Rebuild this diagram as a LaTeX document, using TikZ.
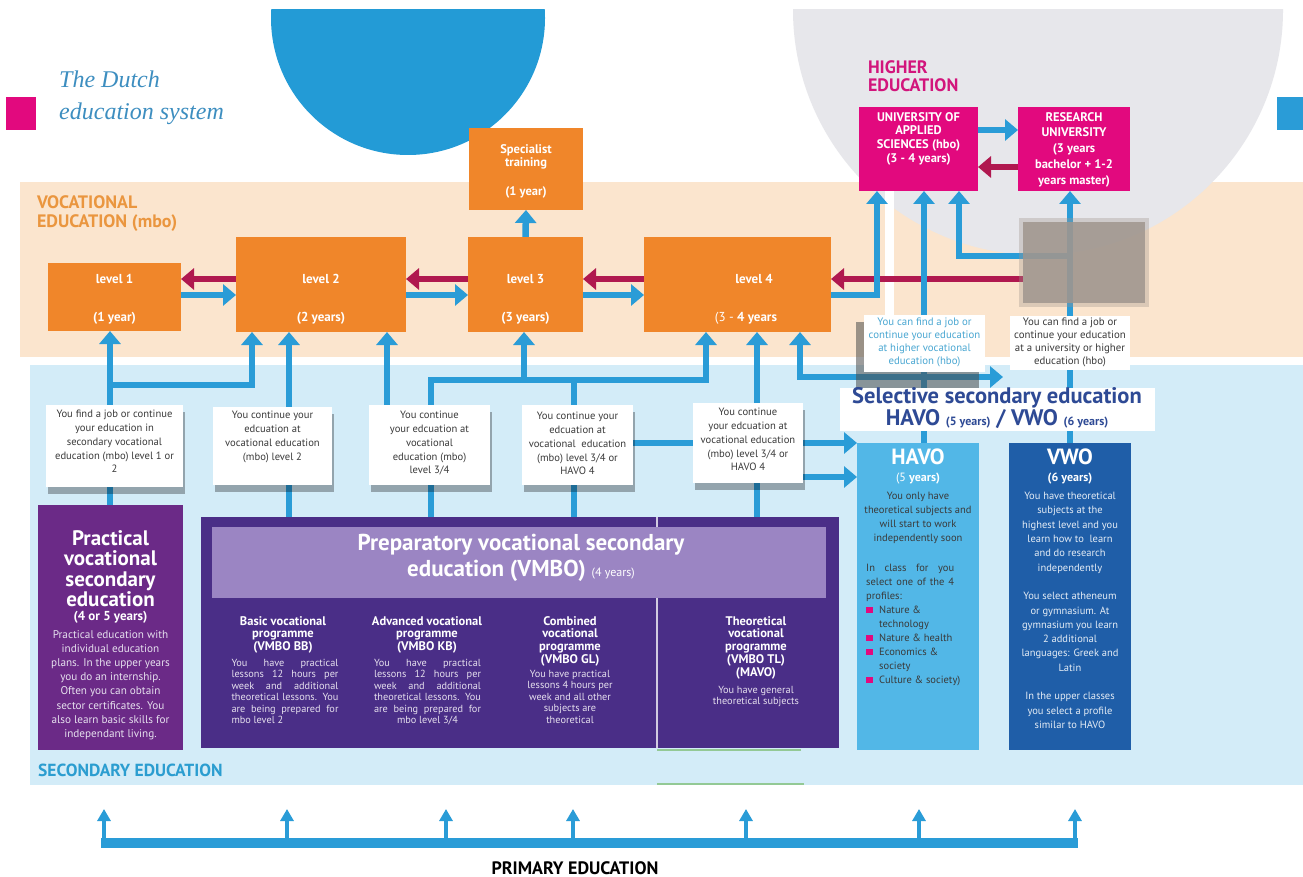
\documentclass[tikz,border=0pt]{standalone}
\usepackage{fontspec}
\setmainfont{PT Sans}
\newfontfamily\titlefont{Liberation Serif}
\usetikzlibrary{arrows.meta,shadows}
\pgfdeclarelayer{bg}
\pgfdeclarelayer{lines}
\pgfsetlayers{bg,lines,main}
\newcommand\fsz[2]{\fontsize{#1}{#2}\selectfont}
\definecolor{orng}{HTML}{F0862A}
\definecolor{beige}{HTML}{FBE5CE}
\definecolor{lblue}{HTML}{D3ECF8}
\definecolor{ablue}{HTML}{2A9CD7}
\definecolor{ared}{HTML}{B0184F}
\definecolor{pinkc}{HTML}{E2097E}
\definecolor{hetext}{HTML}{D2157C}
\definecolor{gcircle}{HTML}{E7E7EB}
\definecolor{bcircle}{HTML}{239BD6}
\definecolor{ppurple}{HTML}{6B2A87}
\definecolor{vpurple}{HTML}{4A2E87}
\definecolor{bannerc}{HTML}{9B85C3}
\definecolor{havoc}{HTML}{52B7E7}
\definecolor{vwoc}{HTML}{1F5EA8}
\definecolor{seltext}{HTML}{2E4A95}
\definecolor{voctext}{HTML}{EA963F}
\definecolor{sectext}{HTML}{2B9DD0}
\definecolor{titletext}{HTML}{3D8EC0}
\definecolor{blurc}{HTML}{A0968E}
\definecolor{dtext}{HTML}{3A3A3A}
\definecolor{hbotext}{HTML}{4AA7D2}
\definecolor{greenl}{HTML}{93C995}
\definecolor{ltext}{HTML}{E6E0EE}
\begin{document}
\begin{tikzpicture}[x=1pt,y=-1pt,
  >={Triangle[width=21pt,length=13pt]},
  bx/.style={anchor=north west,inner sep=0pt,outer sep=0pt},
  barrow/.style={draw=ablue,line width=6.5pt,line join=miter,->},
  rarrow/.style={draw=ared,line width=6.5pt,->},
  link/.style={draw=ablue,line width=6.5pt,line join=miter},
  darrow/.style={draw=ablue,line width=6.5pt,line join=miter,<->},
  smallarrow/.style={draw=ablue,line width=4pt,-{Triangle[width=13pt,length=12pt]}},
  wbox/.style={bx,fill=white,drop shadow={shadow xshift=2pt,shadow yshift=-7pt,fill=black,opacity=0.3}},
  orbox/.style={bx,fill=orng},
  lvl/.style={inner sep=0pt,text=white,font=\fsz{13}{14}\bfseries,align=center},
  tbox/.style={inner sep=0pt,anchor=north,align=center,text=dtext,font=\fsz{10.6}{13.8}},
  colhead/.style={inner sep=0pt,anchor=north,align=center,text=white,font=\fsz{12.5}{12.8}\bfseries},
  colbody/.style={inner sep=0pt,anchor=north,text=ltext,font=\fsz{10.3}{11.4}},
]
\useasboundingbox (0,0) rectangle (1303,877);

% ---------- background ----------
\begin{pgfonlayer}{bg}
\fill[white] (0,0) rectangle (1303,877);
\begin{scope}
\clip (0,10) rectangle (1303,877);
\fill[bcircle] (408,18) circle[radius=137];
\end{scope}
\fill[beige] (20,182) rectangle (1303,357);
\begin{scope}
\clip (0,10) rectangle (1303,877);
\fill[gcircle] (1038,10) circle[radius=245];
\end{scope}
\fill[white] (885,178) rectangle (894,362);
\fill[lblue] (30,365) rectangle (1303,785);
\draw[greenl,line width=2pt] (657,784) -- (804,784);
\fill[pinkc] (6,97) rectangle (36,130);
\fill[ablue] (1277,97) rectangle (1303,130);
\end{pgfonlayer}

% ---------- title ----------
\node[anchor=base west,inner sep=0pt,text=titletext,font=\titlefont\itshape\fsz{24}{30}] (title1) at (59,88) {The Dutch};
\node[anchor=base west,inner sep=0pt,text=titletext,font=\titlefont\itshape\fsz{24}{30}] (title2) at (59,120) {education system};

% ---------- higher education ----------
\node[bx,align=left,text=hetext,font=\fsz{18}{18}\bfseries] (hetitle) at (868,61) {HIGHER\\EDUCATION};
\node[bx,fill=pinkc,minimum width=119pt,minimum height=84pt] (uas) at (859,107) {};
\node[bx,fill=pinkc,minimum width=112pt,minimum height=84pt] (ru) at (1018,107) {};
\node[lvl,anchor=north,font=\fsz{12.5}{13.8}\bfseries] (uastext) at (918.5,112) {UNIVERSITY OF\\APPLIED\\SCIENCES (hbo)\\(3 - 4 years)};
\node[lvl,anchor=north,font=\fsz{12.5}{15.8}\bfseries] (rutext) at (1074,112) {RESEARCH\\UNIVERSITY\\(3 years\\bachelor + 1-2\\years master)};

% ---------- vocational ----------
\node[bx,align=left,text=voctext,font=\fsz{18}{19}\bfseries] (voctitle) at (37,196) {VOCATIONAL\\EDUCATION (mbo)};
\node[orbox,minimum width=133pt,minimum height=68pt] (l1) at (48,263) {};
\node[orbox,minimum width=170pt,minimum height=95pt] (l2) at (236,237) {};
\node[orbox,minimum width=115pt,minimum height=95pt] (l3) at (468,237) {};
\node[orbox,minimum width=187pt,minimum height=95pt] (l4) at (644,237) {};
\node[orbox,minimum width=114pt,minimum height=82pt] (sp) at (469,128) {};
\node[lvl] (l1a) at (114.5,279) {level 1};
\node[lvl] (l1b) at (114.5,318) {(1 year)};
\node[lvl] (l2a) at (321,279) {level 2};
\node[lvl] (l2b) at (321,318) {(2 years)};
\node[lvl] (l3a) at (525.5,279) {level 3};
\node[lvl] (l3b) at (525.5,318) {(3 years)};
\node[lvl] (l4a) at (754,279) {level 4};
\node[lvl] (l4b) at (746,318) {{\mdseries(3 -} 4 years};
\node[lvl,font=\fsz{12.5}{13.5}\bfseries] (spa) at (526,157) {Specialist\\training};
\node[lvl,font=\fsz{12.5}{13.5}\bfseries] (spb) at (526,192) {(1 year)};

% blurred patch
\fill[blurc,opacity=0.35] (1019,218) rectangle (1149,307);
\node[bx,fill=blurc,opacity=0.85,minimum width=122pt,minimum height=81pt] (blur) at (1023,222) {};

% ---------- secondary ----------
\node[bx,fill=ppurple,minimum width=145pt,minimum height=245pt] (prac) at (38,505) {};
\node[bx,fill=vpurple,minimum width=638pt,minimum height=231pt] (vmbo) at (201,517) {};
\draw[white!75!vpurple,line width=1.5pt] (vmbo.north -| 657,0) -- (vmbo.south -| 657,0);
\draw[greenl,line width=2pt] (657,749.5) -- (801,749.5);
\node[bx,fill=bannerc,minimum width=614pt,minimum height=71pt] (banner) at (212,527) {};
\node[bx,fill=havoc,minimum width=122pt,minimum height=307pt] (havo) at (857,443) {};
\node[bx,fill=vwoc,minimum width=122pt,minimum height=307pt] (vwo) at (1009,443) {};

% text boxes
\fill[black!70,opacity=0.55] (856,322) rectangle (979,390);
\node[bx,fill=white,minimum width=121pt,minimum height=57pt] (hbo1) at (864,315) {};
\node[bx,fill=white,minimum width=120pt,minimum height=54pt] (hbo2) at (1010,316) {};
\node[bx,fill=white,minimum width=315pt,minimum height=43pt] (sel) at (840,388) {};
\node[wbox,minimum width=137pt,minimum height=82pt] (t1) at (46,405) {};
\node[wbox,minimum width=119pt,minimum height=78pt] (t2) at (213,407) {};
\node[wbox,minimum width=121pt,minimum height=80pt] (t3) at (369,405) {};
\node[wbox,minimum width=111pt,minimum height=80pt] (t4) at (522,405) {};
\node[wbox,minimum width=110pt,minimum height=80pt] (t5) at (693,403) {};

\node[tbox] (t1text) at (114.5,410) {You find a job or continue\\your education in\\secondary vocational\\education (mbo) level 1 or\\2};
\node[tbox] (t2text) at (272.5,411) {You continue your\\edcuation at\\vocational education\\(mbo) level 2};
\node[tbox] (t3text) at (429.5,411) {You continue\\your edcuation at\\vocational\\education (mbo)\\level 3/4};
\node[tbox] (t4text) at (577.5,412) {You continue your\\edcuation at\\vocational\ \ education\\(mbo) level 3/4 or\\HAVO 4};
\node[tbox] (t5text) at (748,408) {You continue\\your edcuation at\\vocational education\\(mbo) level 3/4 or\\HAVO 4};
\node[tbox,text=hbotext,font=\fsz{10.8}{13}] (hbo1text) at (924.5,318) {You can find a job or\\continue your education\\at higher vocational\\education (hbo)};
\node[tbox,font=\fsz{10.8}{13}] (hbo2text) at (1070,318) {You can find a job or\\continue your education\\at a university or higher\\education (hbo)};

\node[inner sep=0pt,align=center,text=seltext,font=\fsz{22.5}{20.5}\bfseries] (seltext) at (997,408) {Selective secondary education\\HAVO {\fsz{12}{13}(5 years)} / VWO {\fsz{12}{13}(6 years)}};

% practical text
\node[inner sep=0pt,anchor=north,align=center,text=white,font=\fsz{21}{20.5}\bfseries] (practitle) at (110.5,530) {Practical\\vocational\\secondary\\education};
\node[inner sep=0pt,text=white,font=\fsz{13}{14}\bfseries] (pracyears) at (110.5,617) {(4 or 5 years)};
\node[inner sep=0pt,anchor=north,align=center,text=ltext,font=\fsz{11.2}{14.2}] (pracbody) at (110.5,630) {Practical education with\\individual education\\plans. In the upper years\\you do an internship.\\Often you can obtain\\sector certificates. You\\also learn basic skills for\\independant living.};

% VMBO text
\node[inner sep=0pt,align=center,text=white,font=\fsz{23}{26}\bfseries] (bannertext) at (521,558) {Preparatory vocational secondary\\education (VMBO) {\mdseries\fsz{12}{13}(4 years)}};
\node[colhead] (bbh) at (283,616) {Basic vocational\\programme\\(VMBO BB)};
\node[colhead] (kbh) at (427,616) {Advanced vocational\\programme\\(VMBO KB)};
\node[colhead] (glh) at (570,616) {Combined\\vocational\\programme\\(VMBO GL)};
\node[colhead] (tlh) at (756,616) {Theoretical\\vocational\\programme\\(VMBO TL)\\(MAVO)};
\node[colbody,text width=107pt,align=justify] (bbb) at (285,659) {You have practical\linebreak lessons 12 hours per\linebreak week and additional\linebreak theoretical lessons. You\linebreak are being prepared for\linebreak mbo level 2};
\node[colbody,text width=107pt,align=justify] (kbb) at (427.5,659) {You have practical\linebreak lessons 12 hours per\linebreak week and additional\linebreak theoretical lessons. You\linebreak are being prepared for\linebreak\hspace*{\fill}mbo level 3/4\hspace*{\fill}};
\node[colbody,align=center] (glb) at (570,670) {You have practical\\lessons 4 hours per\\week and all other\\subjects are\\theoretical};
\node[colbody,align=center] (tlb) at (756,686) {You have general\\theoretical subjects};

% HAVO / VWO text
\node[inner sep=0pt,text=white,font=\fsz{22}{22}\bfseries] (havot) at (918,457) {HAVO};
\node[inner sep=0pt,text=white,font=\fsz{12}{13}] (havoy) at (918,478.5) {(5 \textbf{years)}};
\node[tbox,font=\fsz{10.5}{14}] (havob1) at (918,492) {You only have\\theoretical subjects and\\will start to work\\independently soon};
\node[inner sep=0pt,anchor=north west,text width=88pt,align=justify,text=dtext,font=\fsz{10.5}{14}] (havob2) at (866,564) {In class for you\linebreak select one of the 4\linebreak profiles:};
\node[inner sep=0pt,anchor=north west,align=left,text=dtext,font=\fsz{10.5}{14}] (havob3) at (866,606) {\makebox[13pt][l]{\textcolor{pinkc}{\rule[0.3pt]{6.5pt}{6.5pt}}}Nature \&\\\hspace*{13pt}technology\\\makebox[13pt][l]{\textcolor{pinkc}{\rule[0.3pt]{6.5pt}{6.5pt}}}Nature \& health\\\makebox[13pt][l]{\textcolor{pinkc}{\rule[0.3pt]{6.5pt}{6.5pt}}}Economics \&\\\hspace*{13pt}society\\\makebox[13pt][l]{\textcolor{pinkc}{\rule[0.3pt]{6.5pt}{6.5pt}}}Culture \& society)};
\node[inner sep=0pt,text=white,font=\fsz{22}{22}\bfseries] (vwot) at (1070,457) {VWO};
\node[inner sep=0pt,text=white,font=\fsz{12}{13}\bfseries] (vwoy) at (1070,478.5) {(6 years)};
\node[tbox,text=white!88!vwoc,font=\fsz{10.5}{14.3}] (vwob) at (1070,492) {You have theoretical\\subjects at the\\highest level and you\\learn how to\ \ learn\\and do research\\independently\\[14.3pt]You select atheneum\\or gymnasium. At\\gymnasium you learn\\2 additional\\languages: Greek and\\Latin\\[14.3pt]In the upper classes\\you select a profile\\similar to HAVO};

% bottom labels
\node[anchor=west,inner sep=0pt,text=sectext,font=\fsz{17.5}{18}\bfseries] (sectitle) at (38,770) {SECONDARY EDUCATION};
\node[inner sep=0pt,text=black,font=\fsz{18}{18}\bfseries] (prim) at (575,868) {PRIMARY EDUCATION};

% ---------- connectors ----------
\begin{pgfonlayer}{lines}
\coordinate (Rr) at (0,279);
\coordinate (Rb) at (0,295);
\coordinate (Ru1) at (0,130);
\coordinate (Ru2) at (0,167);
\coordinate (R443) at (0,443);
\coordinate (R477) at (0,477);
\foreach \xx in {110,252,289,387,431,524,574,706,757,800,877,924,959,1070}
  {\coordinate (X\xx) at (\xx,0);}
% levels
\draw[rarrow] (l2.west|-Rr) -- (l1.east|-Rr);
\draw[barrow] (l1.east|-Rb) -- (l2.west|-Rb);
\draw[rarrow] (l3.west|-Rr) -- (l2.east|-Rr);
\draw[barrow] (l2.east|-Rb) -- (l3.west|-Rb);
\draw[rarrow] (l4.west|-Rr) -- (l3.east|-Rr);
\draw[barrow] (l3.east|-Rb) -- (l4.west|-Rb);
\draw[rarrow] (blur.west|-Rr) -- (l4.east|-Rr);
\draw[barrow] (l3.north) -- (sp.south);
\draw[barrow] (l4.east|-Rb) -| (uas.south-|X877);
% higher
\draw[barrow] (uas.east|-Ru1) -- (ru.west|-Ru1);
\draw[rarrow] (ru.west|-Ru2) -- (uas.east|-Ru2);
\draw[barrow] (havo.north-|X924) -- (uas.south-|X924);
\draw[barrow] (vwo.north-|X1070) -- (ru.south-|X1070);
\coordinate (J1) at (1070,256);
\draw[barrow] (J1) -| (uas.south-|X959);
\coordinate (E1) at (1003,377);
\draw[darrow] (l4.south-|X800) |- (E1);
% lower
\draw[barrow] (prac.north-|X110) -- (l1.south-|X110);
\coordinate (J2) at (110,385);
\draw[barrow] (J2) -| (l2.south-|X252);
\draw[barrow] (vmbo.north-|X289) -- (l2.south-|X289);
\draw[barrow] (t3.north-|X387) -- (l2.south-|X387);
\coordinate (J4) at (706,380);
\draw[barrow] (vmbo.north-|X431) |- (J4) -- (l4.south-|X706);
\coordinate (J5) at (524,380);
\draw[barrow] (J5) -- (l3.south-|X524);
\coordinate (J6) at (574,380);
\draw[link] (vmbo.north-|X574) -- (J6);
\draw[barrow] (vmbo.north-|X757) -- (l4.south-|X757);
\draw[barrow] (t4.east|-R443) -- (havo.west|-R443);
\draw[barrow] (t5.east|-R477) -- (havo.west|-R477);
% primary
\coordinate (BL) at (101,843);
\coordinate (BR) at (1078,843);
\draw[ablue,line width=10pt] (BL) -- (BR);
\foreach \xx [count=\i] in {104,287,446,573,746,919,1075}{
  \coordinate (B\i) at (\xx,843);
  \coordinate (T\i) at (\xx,809);
  \draw[smallarrow] (B\i) -- (T\i);
}
\end{pgfonlayer}
\end{tikzpicture}
\end{document}
